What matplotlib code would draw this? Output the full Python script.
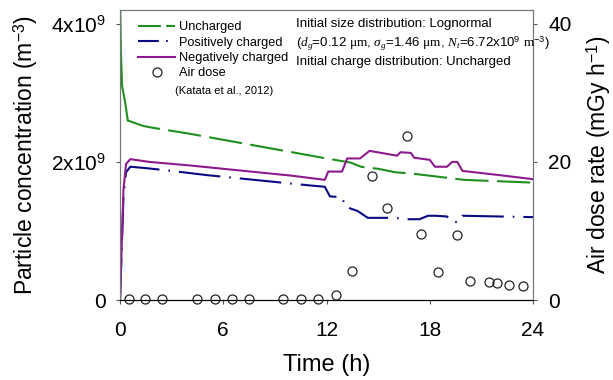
import matplotlib
matplotlib.use('Agg')
import matplotlib.pyplot as plt
from matplotlib.lines import Line2D

plt.rcParams['font.family'] = ['Liberation Sans', 'DejaVu Sans']
plt.rcParams['mathtext.fontset'] = 'custom'
plt.rcParams['mathtext.rm'] = 'Liberation Sans'
plt.rcParams['mathtext.it'] = 'Liberation Serif:italic'
plt.rcParams['mathtext.sf'] = 'Liberation Serif'

# particle concentration (x1e9 m^-3) vs time (h)
t_unc = [0, 0.05, 0.12, 0.3, 0.45, 1.35, 2, 4, 6, 8, 10, 12, 13.4, 14, 15, 16, 17, 18, 19, 20, 21, 22, 23, 24]
n_unc = [4.4, 3.6, 3.1, 2.86, 2.6, 2.52, 2.49, 2.41, 2.32, 2.23, 2.14, 2.05, 1.99, 1.93, 1.90, 1.85, 1.83, 1.80, 1.77, 1.74, 1.73, 1.72, 1.71, 1.70]

t_pos = [0, 0.2, 0.35, 0.6, 1.5, 3, 5, 7, 9, 11, 11.9, 12.2, 12.9, 13.1, 13.8, 14.4, 16.0, 16.6, 17.4, 17.9, 18.3, 19.0, 19.3, 19.7, 19.9, 22, 24]
n_pos = [0, 1.5, 1.85, 1.93, 1.91, 1.87, 1.81, 1.76, 1.71, 1.66, 1.64, 1.50, 1.49, 1.35, 1.29, 1.19, 1.19, 1.17, 1.17, 1.22, 1.22, 1.21, 1.13, 1.13, 1.22, 1.21, 1.20]

t_neg = [0, 0.2, 0.35, 0.6, 1.7, 4, 7.2, 10, 11.9, 12.1, 12.9, 13.2, 13.95, 14.5, 16.1, 16.3, 16.9, 17.1, 18.0, 18.3, 19.0, 19.3, 19.6, 19.9, 22, 24]
n_neg = [0, 1.6, 1.97, 2.04, 2.0, 1.95, 1.87, 1.80, 1.74, 1.86, 1.86, 2.05, 2.05, 2.16, 2.09, 2.14, 2.13, 2.06, 2.03, 1.93, 1.93, 2.0, 2.0, 1.87, 1.81, 1.75]

# air dose rate (mGy/h), Katata et al. 2012
t_dose = [0.5, 1.45, 2.45, 4.5, 5.5, 6.5, 7.5, 9.5, 10.5, 11.5, 12.55, 13.5, 14.65, 15.5, 16.7, 17.5, 18.5, 19.6, 20.35, 21.45, 21.9, 22.6, 23.4]
dose = [0.2, 0.2, 0.2, 0.2, 0.2, 0.2, 0.2, 0.2, 0.2, 0.2, 0.7, 4.2, 18.0, 13.3, 23.8, 9.6, 4.1, 9.4, 2.8, 2.6, 2.4, 2.2, 2.0]

green = '#1f8f1f'
navy = '#0a0a85'
purple = '#8c1a8c'

fig = plt.figure(figsize=(6.13, 3.8), dpi=100)
ax = fig.add_axes([0.1958, 0.2105, 0.6737, 0.7632])
ax2 = ax.twinx()

# steep initial drop drawn solid, rest dashed
ax.plot(t_unc[:5], [v * 1e9 for v in n_unc[:5]], color=green, lw=1.5)
ax.plot(t_unc[4:], [v * 1e9 for v in n_unc[4:]], color=green, lw=1.5, ls=(0, (16, 4)))
ax.plot(t_pos, [v * 1e9 for v in n_pos], color=navy, lw=1.5, ls=(0, (20, 4.3, 0.8, 4.3)))
ax.plot(t_neg, [v * 1e9 for v in n_neg], color=purple, lw=1.5)
ax2.plot(t_dose, dose, 'o', mfc='none', mec='#222222', ms=6.5, mew=0.9, clip_on=False, zorder=5)

ax.set_xlim(0, 24)
ax.set_ylim(0, 4.2e9)
ax2.set_ylim(0, 42)
ax.set_xticks([0, 6, 12, 18, 24])
ax.set_yticks([0, 2e9, 4e9])
ax.set_yticklabels(['0', '2x10$^9$', '4x10$^9$'])
ax2.set_yticks([0, 20, 40])
for a in (ax, ax2):
    a.tick_params(labelsize=15, length=3, color='#555555')
    for s in ('left', 'right', 'top'):
        a.spines[s].set_color('#777777')
    a.spines['bottom'].set_color('black')
ax.tick_params(axis='x', pad=12)
ax.tick_params(axis='y', pad=7)
ax2.tick_params(axis='y', pad=8)

ax.set_xlabel('Time (h)', fontsize=17, labelpad=10)
ax.set_ylabel('Particle concentration (m$^{-3}$)', fontsize=16.5, labelpad=8)
ax2.set_ylabel('Air dose rate (mGy h$^{-1}$)', fontsize=16.5, labelpad=9)

h1 = Line2D([], [], color=green, lw=1.5, ls=(0, (11, 2.5)))
h2 = Line2D([], [], color=navy, lw=1.5, ls=(0, (10, 3.5, 0.8, 3.5)))
h3 = Line2D([], [], color=purple, lw=1.5)
circ = Line2D([], [], ls='none', marker='o', mfc='none', mec='#222222', ms=6.5, mew=0.9)
ax2.legend([h1, h2, h3, circ], ['Uncharged', 'Positively charged', 'Negatively charged', 'Air dose'],
           loc='upper left', bbox_to_anchor=(0.025, 0.988), frameon=False, fontsize=9.2,
           handlelength=2.9, handletextpad=0.3, labelspacing=0.27, borderaxespad=0.2)
ax2.text(0.133, 0.72, '(Katata et al., 2012)', transform=ax2.transAxes, fontsize=8, va='center')

ax2.text(0.426, 0.952, 'Initial size distribution: Lognormal', transform=ax2.transAxes, fontsize=9.5, va='center')
ax2.text(0.426, 0.883, r'($d_g$=0.12 $\mathsf{\mu m}$, $\sigma_g$=1.46 $\mathsf{\mu m}$, $N_t$=6.72x10$^9$ $\mathsf{m}^{-3}$)',
         transform=ax2.transAxes, fontsize=9.5, va='center')
ax2.text(0.426, 0.821, 'Initial charge distribution: Uncharged', transform=ax2.transAxes, fontsize=9.5, va='center')

fig.savefig('out.png', dpi=100)
